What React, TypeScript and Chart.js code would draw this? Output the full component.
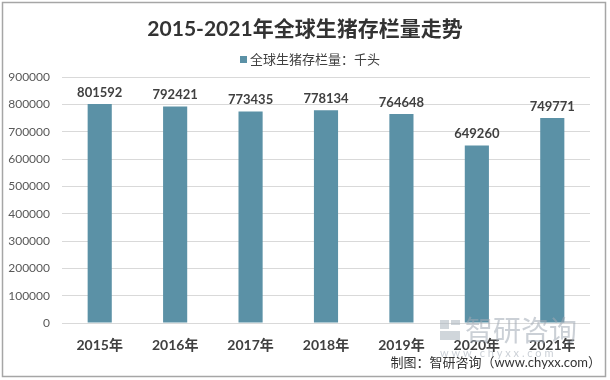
import React, { useEffect, useRef } from "react";
import { Chart, registerables } from "chart.js";

Chart.register(...registerables);

const categories = ["2015年", "2016年", "2017年", "2018年", "2019年", "2020年", "2021年"];
const values = [801592, 792421, 773435, 778134, 764648, 649260, 749771];
const seriesName = "全球生猪存栏量：千头";
const titleText = "2015-2021年全球生猪存栏量走势";
const sourceText = "制图：智研咨询（www.chyxx.com）";
const watermarkText = "智研咨询";
const watermarkUrl = "w w w . c h y x x . c o m";

const FONT = '"Lato", "Noto Sans CJK SC", sans-serif';
const BAR = "#5b91a6";

const decorPlugin = {
  id: "decor",
  afterDatasetsDraw(chart: any) {
    const ctx = chart.ctx;
    const meta = chart.getDatasetMeta(0);
    ctx.save();
    ctx.font = `bold 13px ${FONT}`;
    ctx.fillStyle = "#404040";
    ctx.textAlign = "center";
    ctx.textBaseline = "bottom";
    meta.data.forEach((el: any, i: number) => {
      ctx.fillText(String(values[i]), el.x, el.y - 5);
    });
    ctx.restore();
  },
  afterDraw(chart: any) {
    const ctx = chart.ctx;
    const w = chart.width;
    ctx.save();
    // border
    ctx.strokeStyle = "#a6a6a6";
    ctx.lineWidth = 1.5;
    ctx.strokeRect(2.5, 2.5, w - 7, chart.height - 6);
    // title
    ctx.font = `bold 21px ${FONT}`;
    ctx.fillStyle = "#333333";
    ctx.textAlign = "center";
    ctx.textBaseline = "middle";
    ctx.fillText(titleText, 305, 29);
    // legend
    ctx.font = `13px ${FONT}`;
    const tw = ctx.measureText(seriesName).width;
    const lx = 310 - (tw + 10) / 2;
    ctx.fillStyle = BAR;
    ctx.fillRect(lx, 56, 7, 7);
    ctx.fillStyle = "#404040";
    ctx.textAlign = "left";
    ctx.fillText(seriesName, lx + 10, 60);
    // watermark
    ctx.fillStyle = "rgba(170,180,190,0.55)";
    ctx.fillRect(440, 320, 9, 9);
    ctx.fillRect(451, 320, 9, 5);
    ctx.fillRect(440, 331, 20, 9);
    ctx.font = `28px ${FONT}`;
    ctx.textAlign = "left";
    ctx.fillStyle = "rgba(160,170,180,0.55)";
    ctx.fillText(watermarkText, 465, 332);
    ctx.font = `11px ${FONT}`;
    ctx.fillText(watermarkUrl, 440, 353);
    // source
    ctx.font = `13px ${FONT}`;
    ctx.fillStyle = "#333333";
    ctx.textAlign = "right";
    ctx.fillText(sourceText, 601, 363);
    ctx.restore();
  },
};

export default function App() {
  const ref = useRef<HTMLCanvasElement>(null);
  useEffect(() => {
    if (!ref.current) return;
    const chart = new Chart(ref.current, {
      type: "bar",
      data: {
        labels: categories,
        datasets: [
          {
            label: seriesName,
            data: values,
            backgroundColor: BAR,
            barPercentage: 0.32,
            categoryPercentage: 1,
          },
        ],
      },
      options: {
        animation: false,
        responsive: false,
        layout: { padding: { top: 77, right: 20, left: 0, bottom: 0 } },
        plugins: {
          legend: { display: false },
          title: { display: false },
          tooltip: { enabled: false },
        },
        scales: {
          x: {
            grid: { display: false },
            border: { display: false },
            ticks: {
              color: "#404040",
              font: { family: FONT, size: 14, weight: "bold" },
              padding: 6,
            },
            afterFit: (s: any) => {
              s.height = 57;
            },
          },
          y: {
            min: 0,
            max: 900000,
            ticks: {
              stepSize: 100000,
              color: "#595959",
              font: { family: FONT, size: 12 },
              padding: 12,
              callback: (v: any) => String(v),
            },
            grid: { color: "#d9d9d9", drawTicks: false },
            border: { display: false },
            afterFit: (s: any) => {
              s.width = 62;
            },
          },
        },
      },
      plugins: [decorPlugin],
    });
    return () => chart.destroy();
  }, []);
  return (
    <div style={{ position: "fixed", left: 0, top: 0, width: 610, height: 380, background: "#fff" }}>
      <canvas ref={ref} width={610} height={380} />
    </div>
  );
}
